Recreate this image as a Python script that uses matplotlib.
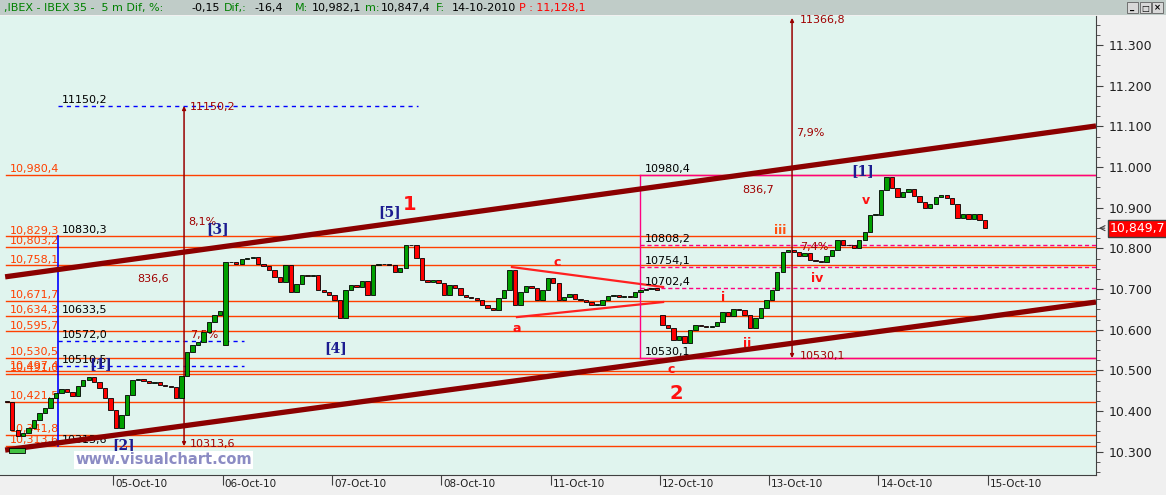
import matplotlib.pyplot as plt
from matplotlib.patches import Rectangle
from matplotlib.transforms import ScaledTranslation

# IBEX 35, 5 min bars, closes (one list per session)
oct04 = [10422, 10353, 10339, 10346, 10358, 10378, 10395, 10407, 10432, 10444,
         10454, 10447, 10437, 10462, 10476, 10484, 10471, 10457, 10432, 10402]
oct05 = [10358, 10390, 10439, 10476, 10479, 10474, 10469, 10471, 10464, 10462,
         10459, 10432, 10486, 10545, 10562, 10570, 10594, 10619, 10636, 10646]
oct06 = [10766, 10766, 10761, 10774, 10776, 10779, 10761, 10757, 10747, 10730,
         10717, 10759, 10693, 10712, 10734, 10732, 10734, 10698, 10693, 10685]
oct07 = [10673, 10629, 10698, 10710, 10705, 10720, 10685, 10759, 10761, 10761,
         10759, 10742, 10752, 10808, 10808, 10776, 10722, 10717, 10722, 10715]
oct08 = [10685, 10710, 10703, 10685, 10680, 10678, 10673, 10661, 10653, 10648,
         10678, 10698, 10747, 10661, 10693, 10707, 10703, 10673, 10698, 10727]
oct11 = [10715, 10673, 10680, 10688, 10675, 10673, 10668, 10661, 10661, 10673,
         10683, 10685, 10680, 10683, 10680, 10693, 10698, 10700, 10703, 10698]
oct12 = [10611, 10604, 10575, 10584, 10567, 10599, 10611, 10609, 10607, 10609,
         10619, 10643, 10634, 10651, 10648, 10636, 10604, 10629, 10653, 10673]
oct13 = [10698, 10742, 10791, 10796, 10791, 10781, 10789, 10771, 10769, 10766,
         10781, 10796, 10820, 10808, 10808, 10801, 10820, 10840, 10882, 10882]
oct14 = [10943, 10975, 10948, 10926, 10939, 10946, 10929, 10914, 10899, 10909,
         10926, 10931, 10924, 10909, 10875, 10885, 10872, 10885, 10870, 10850]
sessions = [oct04, oct05, oct06, oct07, oct08, oct11, oct12, oct13, oct14]
session_open = [10425, 10402, 10562, 10685, 10715, 10727, 10636, 10673, 10882]

date_labels = ['05-Oct-10', '06-Oct-10', '07-Oct-10', '08-Oct-10', '11-Oct-10',
               '12-Oct-10', '13-Oct-10', '14-Oct-10', '15-Oct-10']

# horizontal support / resistance levels
levels = [10980.4, 10829.3, 10803.2, 10758.1, 10671.7, 10634.3, 10595.7,
          10530.5, 10497.4, 10491.0, 10421.5, 10341.8, 10313.6]

# channel (price at left edge, price at right edge)
upper_channel = [10730, 11101]
lower_channel = [10304, 10668]

# triangle a-c
tri_upper = [10754, 10705]
tri_lower = [10631, 10668]

# projections
proj1 = [10313.6, 11150.2]
proj2 = [10530.1, 11366.8]
box2 = [10530.1, 10980.4]
box2_dashed = [10808.2, 10754.1, 10702.4]
box1_dashed = [10572.0, 10510.5]

last_price = 10849.7

ORANGE = '#ff4000'
MAGENTA = '#ff0080'
MAROON = '#8b0000'
WAVE = '#1c1c90'
RED = '#ff1010'

fig = plt.figure(figsize=(11.66, 4.95), dpi=100)
fig.patch.set_facecolor('#f0f0f0')
ax = fig.add_axes([0, 20 / 495, 1096 / 1166, 459 / 495])
ax.set_facecolor('#e0f4ee')
ax.set_xlim(-0.037, 9.991)
ax.set_ylim(10242.7, 11371.4)
xmax = 9.991

# levels
for v in levels:
    ax.plot([0.018, xmax], [v, v], color=ORANGE, lw=1.0, zorder=2)
    ax.text(0.055, v + 2, f'{v:,.1f}'.replace('.', ','), color=ORANGE,
            fontsize=8, va='bottom', ha='left', zorder=3)

# channel
ax.plot([0.01, xmax], upper_channel, color=MAROON, lw=3.8, zorder=4,
        solid_capstyle='butt')
ax.plot([0.01, xmax], lower_channel, color=MAROON, lw=3.8, zorder=4,
        solid_capstyle='butt')

# triangle
ax.plot([4.647, 6.03], tri_upper, color='#ff2020', lw=1.6, zorder=3)
ax.plot([4.693, 6.03], tri_lower, color='#ff2020', lw=1.6, zorder=3)

# first projection (blue)
ax.plot([0.494, 0.494], [10313.6, 10829.3], color='#0000ff', lw=1.2, zorder=3)
ax.plot([0.494, 3.79], [proj1[1], proj1[1]], color='#0000ff', lw=1.0,
        ls=(0, (3, 3)), zorder=3)
for v in box1_dashed:
    ax.plot([0.494, 2.2], [v, v], color='#0000ff', lw=1.0, ls=(0, (3, 3)), zorder=3)

# second projection box (magenta)
ax.plot([5.82, xmax], [box2[0], box2[0]], color=MAGENTA, lw=1.0, zorder=3)
ax.plot([5.82, xmax], [box2[1], box2[1]], color=MAGENTA, lw=1.0, zorder=3)
ax.plot([5.82, 5.82], box2, color=MAGENTA, lw=1.0, zorder=3)
for v in box2_dashed:
    ax.plot([5.82, xmax], [v, v], color=MAGENTA, lw=1.0, ls=(0, (3, 2)), zorder=3)

# projection arrows
for x, (lo, hi) in [(1.647, proj1), (7.21, proj2)]:
    ax.annotate('', xy=(x, hi), xytext=(x, lo),
                arrowprops=dict(arrowstyle='<|-|>', color='#990000', lw=1.1,
                                mutation_scale=5, shrinkA=0, shrinkB=0), zorder=3)

# black value labels
for x, v, s in [(0.53, 11150.2, '11150,2'), (0.53, 10829.3, '10830,3'),
                (0.53, 10634.3, '10633,5'), (0.53, 10572.0, '10572,0'),
                (0.53, 10510.5, '10510,5'), (0.53, 10313.6, '10313,6'),
                (5.865, 10980.4, '10980,4'), (5.865, 10808.2, '10808,2'),
                (5.865, 10754.1, '10754,1'), (5.865, 10702.4, '10702,4'),
                (5.865, 10530.1, '10530,1')]:
    ax.text(x, v + 3, s, color='black', fontsize=8, va='bottom', ha='left', zorder=3)

# maroon projection labels
for x, y, s in [(1.70, 11148, '11150,2'), (1.683, 10866, '8,1%'),
                (1.217, 10725, '836,6'), (1.70, 10586, '7,5%'),
                (1.70, 10320, '10313,6'), (7.28, 11362, '11366,8'),
                (7.246, 11084, '7,9%'), (6.752, 10944, '836,7'),
                (7.28, 10804, '7,4%'), (7.28, 10535, '10530,1')]:
    ax.text(x, y, s, color='#a00000', fontsize=8, va='center', ha='left', zorder=3)

# candles
for d, closes in enumerate(sessions):
    n = len(closes)
    o = session_open[d]
    for i, c in enumerate(closes):
        x = d + (i + 0.5) / n
        col = '#00a000' if c >= o else '#ff0000'
        h = c - o if c != o else 1.5
        ax.bar(x, h, bottom=o, width=0.8 / n, color=col, edgecolor='black',
               linewidth=0.6, zorder=5)
        o = c

# Elliott wave labels
for x, y, s in [(0.887, 10516, '[1]'), (1.098, 10316, '[2]'), (1.958, 10848, '[3]'),
                (3.037, 10555, '[4]'), (3.53, 10889, '[5]'), (7.86, 10990, '[1]')]:
    ax.text(x, y, s, color=WAVE, fontsize=10, fontweight='bold', family='DejaVu Serif',
            ha='center', va='center', zorder=6)
ax.text(3.715, 10909, '1', color=RED, fontsize=14, fontweight='bold',
        ha='center', va='center', zorder=6)
ax.text(6.15, 10444, '2', color=RED, fontsize=14, fontweight='bold',
        ha='center', va='center', zorder=6)
for x, y, s, c in [(4.693, 10604, 'a', RED), (5.06, 10766, 'c', RED),
                   (6.10, 10503, 'c', RED), (6.578, 10678, 'i', RED),
                   (6.80, 10567, 'ii', RED), (7.10, 10843, 'iii', '#ff5010'),
                   (7.438, 10725, 'iv', RED), (7.886, 10917, 'v', RED)]:
    ax.text(x, y, s, color=c, fontsize=9, fontweight='bold', ha='center',
            va='center', zorder=6)

# axes styling
for side in ['left', 'top']:
    ax.spines[side].set_visible(False)
ax.spines['right'].set_color('#404040')
ax.spines['bottom'].set_color('#404040')
ax.yaxis.tick_right()
yt = list(range(10300, 11301, 100))
ax.set_yticks(yt)
ax.set_yticklabels([f'{v / 1000:.3f}' for v in yt])
ax.set_yticks(list(range(10250, 11351, 25)), minor=True)
ax.tick_params(axis='y', which='major', length=5, pad=4, labelsize=9,
               color='#404040', labelcolor='#202020')
ax.tick_params(axis='y', which='minor', length=3, color='#404040')
ax.set_xticks(range(1, 10))
ax.set_xticklabels(date_labels)
ax.tick_params(axis='x', length=7, pad=-4, labelsize=7.5, color='#404040',
               labelcolor='#202020')
for lbl in ax.get_xticklabels():
    lbl.set_ha('left')
    lbl.set_transform(lbl.get_transform() + ScaledTranslation(1.5 / 72, 0, fig.dpi_scale_trans))

# last price tag
ax.annotate(f'{last_price:,.1f}'.replace('.', ','), xy=(1.0, last_price),
            xycoords=('axes fraction', 'data'), xytext=(10, 0),
            textcoords='offset points', color='white', fontsize=9, va='center',
            ha='left', bbox=dict(boxstyle='square,pad=0.15', fc='#ff0000', ec='#404040'),
            arrowprops=dict(arrowstyle='->', color='#404040', lw=0.8), zorder=7,
            annotation_clip=False)

# watermark and marker
fig.text(75 / 1166, 1 - 460 / 495, 'www.visualchart.com', color='#8c8cc4',
         fontsize=10.5, fontweight='bold', va='center', ha='left',
         bbox=dict(boxstyle='square,pad=0.1', fc='white', ec='none'))
ax.add_patch(Rectangle((0.008, 0.048), 0.0146, 0.01, transform=ax.transAxes,
                       fc='#40c040', ec='black', lw=0.6, zorder=6))

# header bar
fig.patches.append(Rectangle((0, 1 - 15 / 495), 1, 15 / 495, transform=fig.transFigure,
                             fc='#c0ccc8', ec='none'))
hy = 1 - 8 / 495
for px, s, c in [(4, ',IBEX - IBEX 35 -  5 m Dif, %:', '#008000'), (191, '-0,15', 'black'),
                 (224, 'Dif,:', '#008000'), (254, '-16,4', 'black'), (295, 'M:', '#008000'),
                 (312, '10,982,1', 'black'), (365, 'm:', '#008000'),
                 (381, '10,847,4', 'black'), (436, 'F:', '#008000'),
                 (452, '14-10-2010', 'black'), (519, 'P : 11,128,1', '#ff0000')]:
    fig.text(px / 1166, hy, s, color=c, fontsize=8, va='center', ha='left')
for i, s in enumerate(['_', '\u25a1', '\u00d7']):
    x0 = (1127 + i * 12.5) / 1166
    fig.patches.append(Rectangle((x0, 1 - 13 / 495), 11 / 1166, 11 / 495,
                                 transform=fig.transFigure, fc='#d8d8d8', ec='#606060', lw=0.6))
    fig.text(x0 + 5.5 / 1166, 1 - 8 / 495, s, fontsize=6, ha='center', va='center',
             fontweight='bold')

fig.savefig('out.png', dpi=100, facecolor=fig.get_facecolor())
